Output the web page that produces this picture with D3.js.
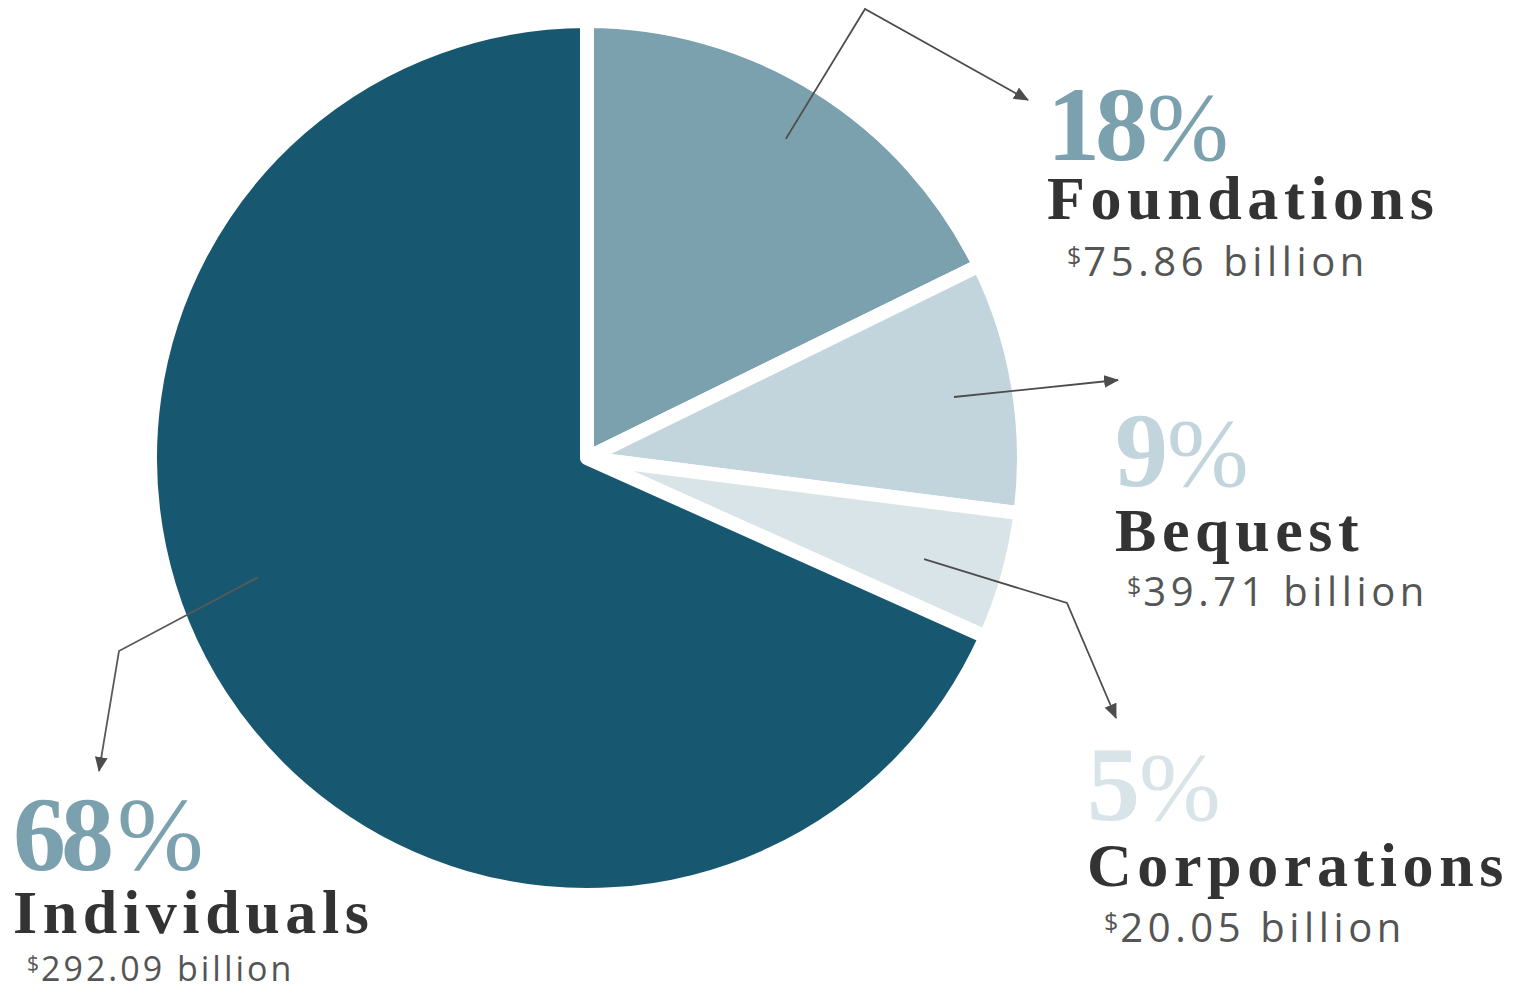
<!DOCTYPE html>
<html>
<head>
<meta charset="utf-8">
<script src="https://cdn.jsdelivr.net/npm/d3@7"></script>
<style>
  html, body { margin: 0; padding: 0; background: #fff; }
  #chart { width: 1525px; height: 994px; }
</style>
</head>
<body>
<div id="chart"></div>
<script>
// giving by source, in billions of dollars
var categories = ["Foundations", "Bequest", "Corporations", "Individuals"];
var amounts = [75.86, 39.71, 20.05, 292.09];
var percentLabels = ["18%", "9%", "5%", "68%"];
var amountLabels = ["75.86 billion", "39.71 billion", "20.05 billion", "292.09 billion"];

var sliceColors = ["#7ba0ae", "#c3d5dc", "#d8e4e8", "#175870"];
var pctColors = ["#7ba0ae", "#c3d5dc", "#d8e4e8", "#7ba0ae"];

// label blocks: x, baseline of the percent, label and amount lines, amount size
var labelPos = [
  {x: 1047, pct: 160, name: 219, amt: 276, ax: 1067, fs: 40, ls: 4.6},
  {x: 1115, pct: 486, name: 551, amt: 606, ax: 1127, fs: 40, ls: 4.6},
  {x: 1087, pct: 820, name: 886, amt: 942, ax: 1104, fs: 40, ls: 4.6},
  {x: 13,   pct: 870, name: 933, amt: 981, ax: 27,   fs: 34, ls: 3}
];

// leader lines: start radius, angle nudge (deg), optional elbow, arrow tip
var leaders = [
  {r: 376, da: 0,  elbow: [865, 9],   tip: [1028, 100]},
  {r: 372, da: 0,  elbow: null,       tip: [1118, 380]},
  {r: 352, da: 1,  elbow: [1067, 603], tip: [1116, 718]},
  {r: 350, da: 13, elbow: [119, 651], tip: [99, 771]}
];

var width = 1525, height = 994;
var cx = 587, cy = 458, radius = 437;

var svg = d3.select("#chart").append("svg")
  .attr("width", width)
  .attr("height", height)
  .attr("viewBox", [0, 0, width, height]);

svg.append("defs").append("marker")
  .attr("id", "arrow")
  .attr("markerUnits", "userSpaceOnUse")
  .attr("viewBox", "0 -6 14 12")
  .attr("refX", 13)
  .attr("refY", 0)
  .attr("markerWidth", 15)
  .attr("markerHeight", 13)
  .attr("orient", "auto")
  .append("path")
  .attr("d", "M0,-6L14,0L0,6Z")
  .attr("fill", "#4d4d4d");

var pie = d3.pie().sort(null).value(function(d) { return d; });
var arcs = pie(amounts);

var arc = d3.arc().innerRadius(0).outerRadius(radius);

var g = svg.append("g").attr("transform", "translate(" + cx + "," + cy + ")");

g.selectAll("path")
  .data(arcs)
  .enter().append("path")
  .attr("d", arc)
  .attr("fill", function(d, i) { return sliceColors[i]; })
  .attr("stroke", "#fff")
  .attr("stroke-width", 14)
  .attr("stroke-linejoin", "round");

// leader lines
var line = d3.line();
svg.selectAll("path.leader")
  .data(arcs)
  .enter().append("path")
  .attr("class", "leader")
  .attr("d", function(d, i) {
    var L = leaders[i];
    var a = (d.startAngle + d.endAngle) / 2 + L.da * Math.PI / 180;
    var start = [cx + L.r * Math.sin(a), cy - L.r * Math.cos(a)];
    var pts = [start];
    if (L.elbow) pts.push(L.elbow);
    pts.push(L.tip);
    return line(pts);
  })
  .attr("fill", "none")
  .attr("stroke", function(d, i) { return i === 3 ? "#5a5a5a" : "#4d4d4d"; })
  .attr("stroke-width", 1.8)
  .attr("marker-end", "url(#arrow)");

// labels
var labels = svg.selectAll("g.label")
  .data(categories)
  .enter().append("g")
  .attr("class", "label");

var pct = labels.append("text")
  .attr("x", function(d, i) { return labelPos[i].x; })
  .attr("y", function(d, i) { return labelPos[i].pct; })
  .attr("fill", function(d, i) { return pctColors[i]; })
  .style("font-family", "'Liberation Serif', 'Times New Roman', serif");

pct.append("tspan")
  .style("font-size", "106px")
  .style("font-weight", "bold")
  .style("letter-spacing", "-5px")
  .text(function(d, i) { return percentLabels[i].replace("%", ""); });

pct.append("tspan")
  .attr("dx", function(d, i) { return i === 3 ? 8 : 4; })
  .style("font-size", function(d, i) { return i === 3 ? "104px" : "98px"; })
  .style("font-weight", "normal")
  .text("%");

labels.append("text")
  .attr("x", function(d, i) { return labelPos[i].x; })
  .attr("y", function(d, i) { return labelPos[i].name; })
  .attr("fill", "#333")
  .style("font-family", "'Liberation Serif', 'Times New Roman', serif")
  .style("font-size", "62px")
  .style("font-weight", "bold")
  .style("letter-spacing", "5.6px")
  .text(function(d) { return d; });

var amt = labels.append("text")
  .attr("x", function(d, i) { return labelPos[i].ax; })
  .attr("y", function(d, i) { return labelPos[i].amt; })
  .attr("fill", "#555")
  .style("font-family", "'Open Sans', 'Noto Sans', sans-serif");

amt.append("tspan")
  .attr("dy", function(d, i) { return -labelPos[i].fs * 0.28; })
  .style("font-size", function(d, i) { return Math.round(labelPos[i].fs * 0.62) + "px"; })
  .text("$");

amt.append("tspan")
  .attr("dy", function(d, i) { return labelPos[i].fs * 0.28; })
  .attr("dx", 2)
  .style("font-size", function(d, i) { return labelPos[i].fs + "px"; })
  .style("letter-spacing", function(d, i) { return labelPos[i].ls + "px"; })
  .text(function(d, i) { return amountLabels[i]; });
</script>
</body>
</html>
